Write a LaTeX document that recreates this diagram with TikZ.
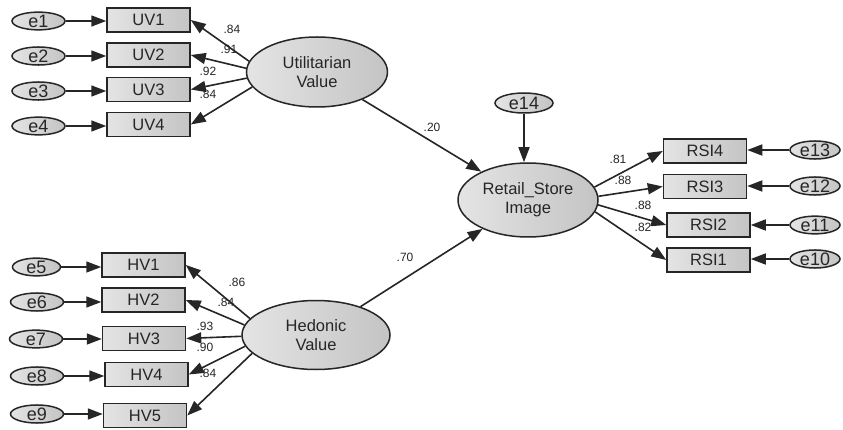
\documentclass[tikz,border=0pt]{standalone}
\usepackage{fontspec}
\setmainfont{Liberation Sans}
\usetikzlibrary{shapes.geometric,arrows.meta}
\definecolor{ink}{HTML}{262626}
\definecolor{fillA}{HTML}{E4E4E4}
\definecolor{fillB}{HTML}{C4C4C4}
\tikzset{
  base/.style={draw=ink,text=ink,line width=1.5pt,inner sep=0pt,left color=fillA,right color=fillB},
  err/.style={base,ellipse,minimum width=53pt,minimum height=17pt,font=\fontsize{18}{18}\selectfont},
  obs/.style={base,rectangle,minimum width=83pt,minimum height=24pt,font=\fontsize{16.5}{18}\selectfont},
  lat/.style={base,ellipse,minimum width=141pt,minimum height=70pt,align=center,font=\fontsize{16.5}{19}\selectfont},
  arr/.style={draw=ink,line width=1.6pt,-{Triangle[length=15pt,width=11pt]}},
  lbl/.style={inner sep=0pt,text=ink,font=\fontsize{12}{13}\selectfont}
}
\begin{document}
\begin{tikzpicture}[x=1pt,y=-1pt]
\useasboundingbox (0,0) rectangle (843,430);
\fill[white] (0,0) rectangle (843,430);
% latent
\node[lat] (UV) at (317,72) {Utilitarian\\Value};
\node[lat,minimum width=148pt,minimum height=69pt] (HV) at (316,335) {Hedonic\\Value};
\node[lat,minimum width=140pt,minimum height=74pt] (RSI) at (528,200) {Retail\_Store\\Image};
% observed
\node[obs] (UV1) at (148.5,20) {UV1};
\node[obs] (UV2) at (148.5,55) {UV2};
\node[obs] (UV3) at (148.5,89.5) {UV3};
\node[obs] (UV4) at (148.5,124.5) {UV4};
\node[obs] (HV1) at (143.5,265) {HV1};
\node[obs] (HV2) at (143.5,300) {HV2};
\node[obs] (HV3) at (144,338.5) {HV3};
\node[obs] (HV4) at (146.5,374.5) {HV4};
\node[obs] (HV5) at (145,415.5) {HV5};
\node[obs] (RSI4) at (705,151) {RSI4};
\node[obs] (RSI3) at (705,186.5) {RSI3};
\node[obs] (RSI2) at (708.5,225) {RSI2};
\node[obs] (RSI1) at (708.5,260) {RSI1};
% errors
\node[err] (e1) at (38.5,21) {e1};
\node[err] (e2) at (38.5,56) {e2};
\node[err] (e3) at (38.5,91) {e3};
\node[err] (e4) at (38.5,126) {e4};
\node[err,minimum width=48pt] (e5) at (36.5,267) {e5};
\node[err] (e6) at (37,302) {e6};
\node[err] (e7) at (36,339) {e7};
\node[err] (e8) at (37,376) {e8};
\node[err] (e9) at (37,414) {e9};
\node[err,minimum width=50pt] (e13) at (815,150) {e13};
\node[err,minimum width=50pt] (e12) at (815,186) {e12};
\node[err,minimum width=50pt] (e11) at (815,225) {e11};
\node[err,minimum width=50pt] (e10) at (815,259) {e10};
\node[err,minimum width=58pt,minimum height=20pt] (e14) at (524,103) {e14};
% error arrows
\foreach \e/\o in {e1/UV1,e2/UV2,e3/UV3,e4/UV4,e5/HV1,e6/HV2,e7/HV3,e8/HV4,e9/HV5}
  \draw[arr] (\e.east) -- (\o.west |- \e.east);
\foreach \e/\o in {e13/RSI4,e12/RSI3,e11/RSI2,e10/RSI1}
  \draw[arr] (\e.west) -- (\o.east |- \e.west);
\draw[arr] (e14.south) -- (RSI.north -| e14.south);
% loadings
\draw[arr] (UV.171) -- (UV1.east);
\draw[arr] (UV.177) -- (UV2.east);
\draw[arr] (UV.185) -- (UV3.east);
\draw[arr] (UV.193) -- (UV4.east);
\draw[arr] (HV.166) -- (HV1.east);
\draw[arr] (HV.172) -- (HV2.east);
\draw[arr] (HV.181) -- (HV3.east);
\draw[arr] (HV.189) -- (HV4.east);
\draw[arr] (HV.196) -- (HV5.east);
\draw[arr] (RSI.11) -- (RSI4.west);
\draw[arr] (RSI.3) -- (RSI3.west);
\draw[arr] (RSI.-4) -- (RSI2.west);
\draw[arr] (RSI.-10) -- (RSI1.west);
% structural
\draw[arr] (UV) -- (RSI);
\draw[arr] (HV) -- (RSI);
% labels
\node[lbl] (l1) at (232,29) {.84};
\node[lbl] (l2) at (229,49) {.91};
\node[lbl] (l3) at (208,71) {.92};
\node[lbl] (l4) at (208,94) {.84};
\node[lbl] (l5) at (432,127) {.20};
\node[lbl] (l6) at (405,257) {.70};
\node[lbl] (l7) at (237,282) {.86};
\node[lbl] (l8) at (226,302) {.84};
\node[lbl] (l9) at (205,326) {.93};
\node[lbl] (l10) at (205,347) {.90};
\node[lbl] (l11) at (208,373) {.84};
\node[lbl] (l12) at (618,159) {.81};
\node[lbl] (l13) at (623,180) {.88};
\node[lbl] (l14) at (643,205) {.88};
\node[lbl] (l15) at (643,227) {.82};
\end{tikzpicture}
\end{document}
